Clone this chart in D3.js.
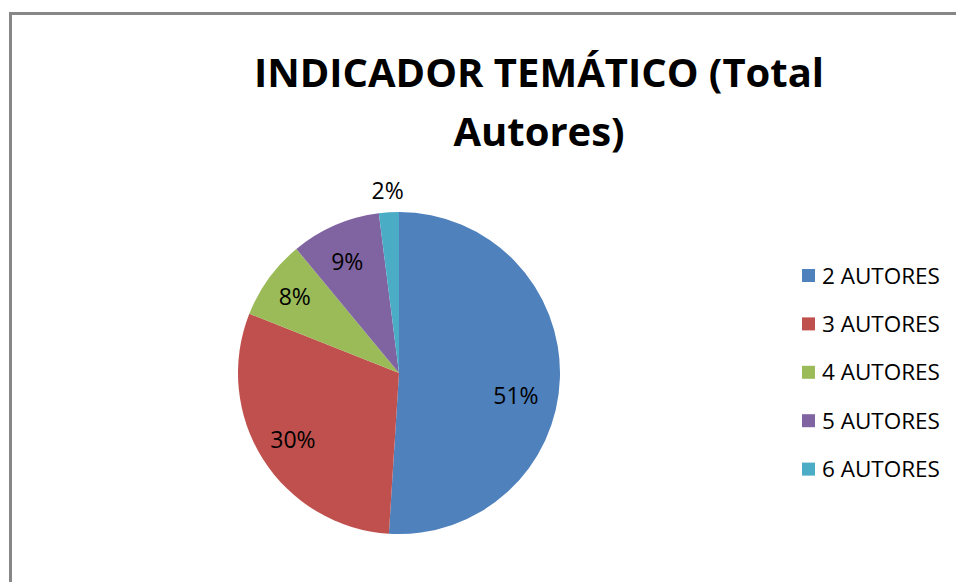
<!DOCTYPE html>
<html>
<head>
<meta charset="utf-8">
<script src="https://cdn.jsdelivr.net/npm/d3@7"></script>
<style>
  html, body { margin: 0; padding: 0; background: #fff; }
  svg { display: block; font-family: "Open Sans", sans-serif; }
</style>
</head>
<body>
<div id="chart"></div>
<script>
const categories = ['2 AUTORES', '3 AUTORES', '4 AUTORES', '5 AUTORES', '6 AUTORES'];
const shares = [51, 30, 8, 9, 2];
const colors = ['#4F81BD', '#C0504D', '#9BBB59', '#8064A2', '#4BACC6'];
const titleLines = ['INDICADOR TEMÁTICO (Total', 'Autores)'];

const width = 956;
const height = 582;
const cx = 399, cy = 373, r = 161;

// "best fit" label spots: [radius factor, position along the slice 0..1]
const labelPlace = [[0.74, 0.55], [0.78, 0.5], [0.8, 0.5], [0.76, 0.45], [1.13, 0.5]];

const svg = d3.select('#chart').append('svg')
  .attr('width', width)
  .attr('height', height);

// chart area frame (runs off the right/bottom edge)
svg.append('rect')
  .attr('x', 10.5).attr('y', 13.5)
  .attr('width', width + 20).attr('height', height + 20)
  .attr('fill', '#fff')
  .attr('stroke', '#878787')
  .attr('stroke-width', 3);

// title
svg.append('g').attr('class', 'title')
  .selectAll('text')
  .data(titleLines)
  .join('text')
  .attr('x', 539)
  .attr('y', (d, i) => 87 + i * 59)
  .attr('text-anchor', 'middle')
  .attr('font-size', 40)
  .attr('font-weight', 700)
  .attr('fill', '#000')
  .text((d) => d)
  .each(function (d, i) {
    const target = i === 0 ? 578 : 172;
    if (this.getComputedTextLength() > target) {
      this.setAttribute('textLength', target);
      this.setAttribute('lengthAdjust', 'spacingAndGlyphs');
    }
  });

// pie
const pie = d3.pie().sort(null).value((d) => d.v);
const arcs = pie(categories.map((c, i) => ({ c, v: shares[i], color: colors[i] })));
const arc = d3.arc().innerRadius(0).outerRadius(r);

const g = svg.append('g').attr('transform', `translate(${cx},${cy})`);
g.selectAll('path.slice')
  .data(arcs)
  .join('path')
  .attr('class', 'slice')
  .attr('d', arc)
  .attr('fill', (d) => d.data.color);

const labelPos = (d) => {
  const [rf, t] = labelPlace[d.index];
  const a = d.startAngle + (d.endAngle - d.startAngle) * t;
  return [Math.sin(a) * r * rf, -Math.cos(a) * r * rf];
};
g.selectAll('text.lbl')
  .data(arcs)
  .join('text')
  .attr('class', 'lbl')
  .attr('x', (d) => labelPos(d)[0])
  .attr('y', (d) => labelPos(d)[1])
  .attr('dy', '0.35em')
  .attr('text-anchor', 'middle')
  .attr('font-size', 23)
  .attr('fill', '#000')
  .text((d) => `${d.data.v}%`);

// legend
const legend = svg.append('g').attr('transform', 'translate(802,269)');
const item = legend.selectAll('g')
  .data(categories)
  .join('g')
  .attr('transform', (d, i) => `translate(0,${i * 48.4})`);
item.append('rect')
  .attr('width', 13).attr('height', 13)
  .attr('fill', (d, i) => colors[i]);
item.append('text')
  .attr('x', 20).attr('y', 6.5)
  .attr('dy', '0.36em')
  .attr('font-size', 22.5)
  .attr('fill', '#000')
  .text((d) => d);
</script>
</body>
</html>
